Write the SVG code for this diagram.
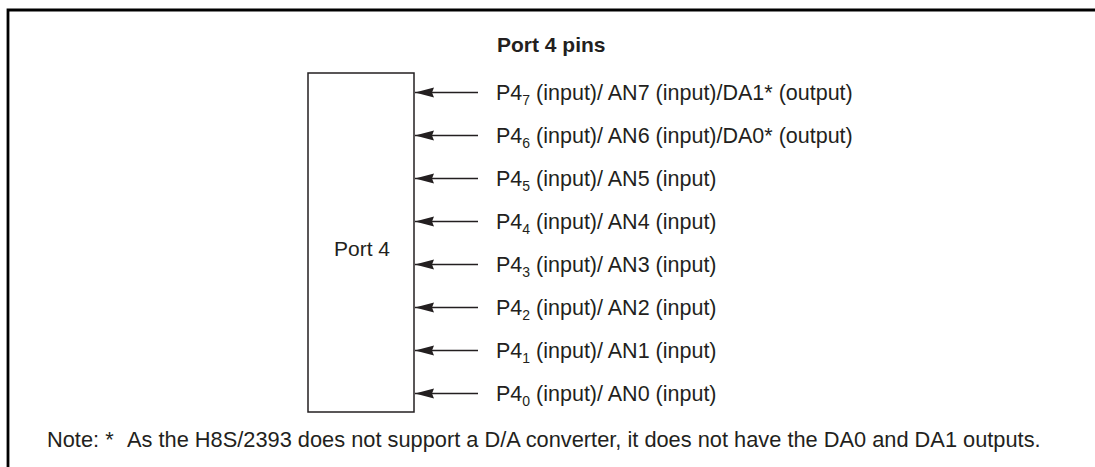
<svg xmlns="http://www.w3.org/2000/svg" width="1095" height="467" viewBox="0 0 1095 467">
<style>
text{font-family:"Liberation Sans",Arial,sans-serif;font-size:21.5px;fill:#231f20}
.title{font-weight:bold;font-size:21px}
.box{font-size:21px}
.sub{font-size:14px}
.note{font-size:21.8px}
.wire{stroke:#231f20;stroke-width:1.3;fill:none}
</style>
<defs>
<marker id="ah" viewBox="0 0 19 11" refX="19" refY="5.5" markerWidth="19" markerHeight="11" markerUnits="userSpaceOnUse" orient="auto">
<path d="M0,0.5 L19,5.5 L0,10.5 L2,5.5 Z" fill="#231f20"/>
</marker>
</defs>
<rect width="1095" height="467" fill="#fff"/>
<path d="M8,467 V10 H1095" fill="none" stroke="#000" stroke-width="2.8"/>
<text class="title" x="497" y="52">Port 4 pins</text>
<g id="port4">
<rect x="308" y="73" width="106" height="339" fill="#fff" stroke="#231f20" stroke-width="1.5"/>
<text class="box" x="334" y="256">Port 4</text>
</g>
<g id="connectors">
<path class="wire" marker-end="url(#ah)" d="M478,92.5 H415"/>
<path class="wire" marker-end="url(#ah)" d="M478,135.5 H415"/>
<path class="wire" marker-end="url(#ah)" d="M478,178.5 H415"/>
<path class="wire" marker-end="url(#ah)" d="M478,221.5 H415"/>
<path class="wire" marker-end="url(#ah)" d="M478,264.5 H415"/>
<path class="wire" marker-end="url(#ah)" d="M478,307.5 H415"/>
<path class="wire" marker-end="url(#ah)" d="M478,350.5 H415"/>
<path class="wire" marker-end="url(#ah)" d="M478,393.5 H415"/>
</g>
<g id="pin7"><text x="496" y="100">P4<tspan class="sub" dy="5">7</tspan><tspan dy="-5"> (input)/ AN7 (input)/DA1* (output)</tspan></text></g>
<g id="pin6"><text x="496" y="143">P4<tspan class="sub" dy="5">6</tspan><tspan dy="-5"> (input)/ AN6 (input)/DA0* (output)</tspan></text></g>
<g id="pin5"><text x="496" y="186">P4<tspan class="sub" dy="5">5</tspan><tspan dy="-5"> (input)/ AN5 (input)</tspan></text></g>
<g id="pin4"><text x="496" y="229">P4<tspan class="sub" dy="5">4</tspan><tspan dy="-5"> (input)/ AN4 (input)</tspan></text></g>
<g id="pin3"><text x="496" y="272">P4<tspan class="sub" dy="5">3</tspan><tspan dy="-5"> (input)/ AN3 (input)</tspan></text></g>
<g id="pin2"><text x="496" y="315">P4<tspan class="sub" dy="5">2</tspan><tspan dy="-5"> (input)/ AN2 (input)</tspan></text></g>
<g id="pin1"><text x="496" y="358">P4<tspan class="sub" dy="5">1</tspan><tspan dy="-5"> (input)/ AN1 (input)</tspan></text></g>
<g id="pin0"><text x="496" y="401">P4<tspan class="sub" dy="5">0</tspan><tspan dy="-5"> (input)/ AN0 (input)</tspan></text></g>
<text class="note" x="47" y="447">Note: *<tspan x="127">As the H8S/2393 does not support a D/A converter, it does not have the DA0 and DA1 outputs.</tspan></text>
</svg>
